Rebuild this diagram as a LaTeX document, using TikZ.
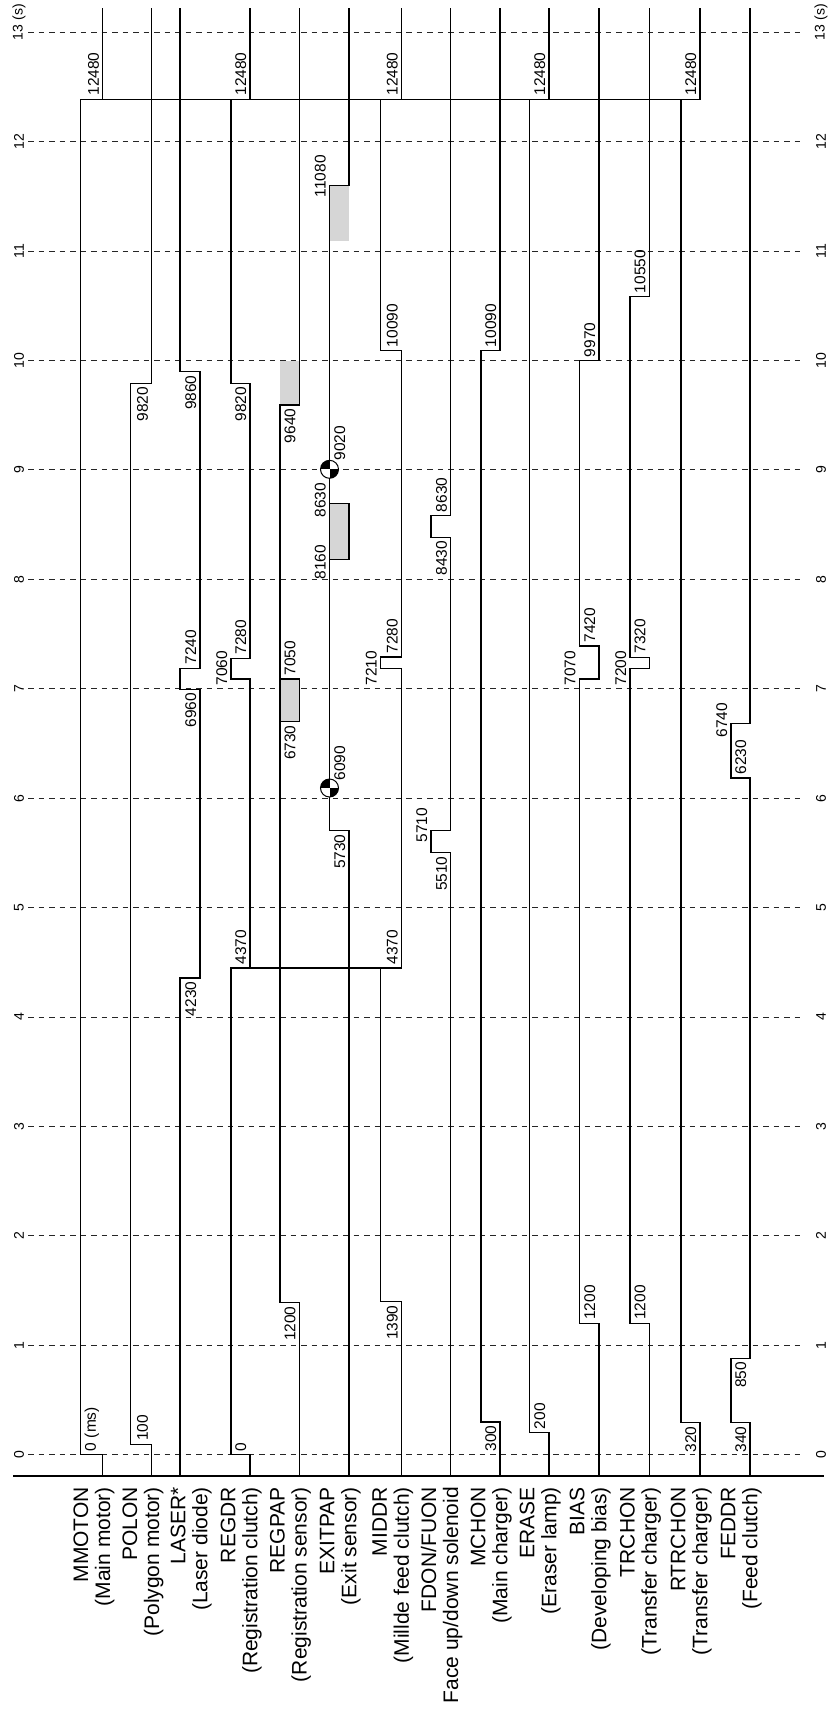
\documentclass[tikz,border=0pt]{standalone}
\usepackage{fontspec}
\setmainfont{Liberation Sans}
\definecolor{boxgray}{RGB}{214,214,214}
\begin{document}
\begin{tikzpicture}[x=1pt,y=-1pt,
  sig/.style={line width=1.35pt, line join=miter},
  tgrid/.style={line width=1pt, black!85, dash pattern=on 5.5pt off 5pt},
  tlab/.style={rotate=90, font=\fontsize{15.5}{16}\selectfont, inner sep=3.5pt},
  lblup/.style={tlab, anchor=south west},
  lbldn/.style={tlab, anchor=south east},
  axlab/.style={rotate=90, font=\fontsize{14}{15}\selectfont, inner sep=0pt},
  siglab/.style={rotate=90, anchor=south east, inner sep=0pt, align=right, font=\fontsize{21}{22}\selectfont},
  cgmark/.style={circle, draw, line width=1pt, minimum size=18pt, inner sep=0pt, fill=white,
    path picture={\fill[black] (path picture bounding box.center) rectangle (path picture bounding box.north west);
                  \fill[black] (path picture bounding box.center) rectangle (path picture bounding box.south east);}}
]
\useasboundingbox (0,0) rectangle (831,1709);

% time grid
\foreach \t in {0,...,12}{
  \pgfmathsetmacro\yy{1454.7-109.42*\t}
  \draw[tgrid] (28,\yy) -- (802,\yy);
  \node[axlab] (axL\t) at (19,\yy) {\t};
  \node[axlab] (axR\t) at (821,\yy) {\t};
}
\draw[tgrid] (28,32.3) -- (802,32.3);
\node[axlab] (axL13) at (19,32.3) {13\rlap{ (s)}};
\node[axlab] (axR13) at (821,32.3) {13\rlap{ (s)}};

% axis
\draw[line width=2.2pt] (13,1476) -- (824,1476);

% grey zones
\fill[boxgray] (280,360.7) rectangle (299.3,405);
\fill[boxgray] (329.5,185.7) rectangle (349,241);
\filldraw[sig, fill=boxgray] (280,679) rectangle (299.3,721.7);
\filldraw[sig, fill=boxgray] (329.5,503.3) rectangle (349,559.3);

% common transitions
\draw[sig] (80.3,99.3) -- (700,99.3);
\draw[sig] (231,968) -- (401.5,968);

% MMOTON
\draw[sig] (102.7,1476) -- (102.7,1454.7) -- (80.3,1454.7) -- (80.3,99.3) -- (102.7,99.3) -- (102.7,8);
% POLON
\draw[sig] (151.7,1476) -- (151.7,1444.3) -- (130.5,1444.3) -- (130.5,383.3) -- (151.7,383.3) -- (151.7,8);
% LASER
\draw[sig] (180,1476) -- (180,978) -- (200,978) -- (200,689.3) -- (180,689.3) -- (180,668.3) -- (200,668.3) -- (200,371.7) -- (180,371.7) -- (180,8);
% REGDR
\draw[sig] (250,1476) -- (250,1454.7) -- (231,1454.7) -- (231,968) -- (250,968) -- (250,679) -- (231,679) -- (231,658.3) -- (250,658.3) -- (250,383.3) -- (231,383.3) -- (231,99.3) -- (250,99.3) -- (250,8);
% REGPAP
\draw[sig] (299.3,1476) -- (299.3,1302.7) -- (280,1302.7) -- (280,405) -- (299.3,405) -- (299.3,8);
% EXITPAP
\draw[sig] (349,1476) -- (349,830.7) -- (329.5,830.7) -- (329.5,185.7) -- (349,185.7) -- (349,8);
% MIDDR
\draw[sig] (401.5,1476) -- (401.5,1301.7) -- (380.5,1301.7) -- (380.5,968) -- (401.5,968) -- (401.5,668.3) -- (380.5,668.3) -- (380.5,657) -- (401.5,657) -- (401.5,350.7) -- (380.5,350.7) -- (380.5,99.3) -- (401.5,99.3) -- (401.5,8);
% FDON
\draw[sig] (450.7,1476) -- (450.7,852.7) -- (431,852.7) -- (431,830.7) -- (450.7,830.7) -- (450.7,537.3) -- (431,537.3) -- (431,515.7) -- (450.7,515.7) -- (450.7,8);
% MCHON
\draw[sig] (500,1476) -- (500,1422) -- (481,1422) -- (481,350.7) -- (500,350.7) -- (500,8);
% ERASE
\draw[sig] (549,1476) -- (549,1432.7) -- (529.3,1432.7) -- (529.3,99.3) -- (549,99.3) -- (549,8);
% BIAS
\draw[sig] (599,1476) -- (599,1323.3) -- (579.3,1323.3) -- (579.3,679) -- (599,679) -- (599,646) -- (579.3,646) -- (579.3,360.7) -- (599,360.7) -- (599,8);
% TRCHON
\draw[sig] (649.3,1476) -- (649.3,1323.3) -- (630,1323.3) -- (630,668.3) -- (649.3,668.3) -- (649.3,657.3) -- (630,657.3) -- (630,296.7) -- (649.3,296.7) -- (649.3,8);
% RTRCHON
\draw[sig] (700,1476) -- (700,1422.7) -- (681,1422.7) -- (681,99.3) -- (700,99.3) -- (700,8);
% FEDDR
\draw[sig] (750,1476) -- (750,1422.7) -- (731,1422.7) -- (731,1358.3) -- (750,1358.3) -- (750,778) -- (731,778) -- (731,723.3) -- (750,723.3) -- (750,8);

% sensor markers
\node[cgmark] (cg1) at (329.5,788) {};
\node[cgmark] (cg2) at (329.5,469.3) {};

% step labels above
\node[lblup] (a1) at (102.7,1454.7) {0 (ms)};
\node[lblup] (a2) at (102.7,99.3) {12480};
\node[lblup] (a3) at (151.7,1444.3) {100};
\node[lblup] (a4) at (200,668.3) {7240};
\node[lblup] (a5) at (250,1454.7) {0};
\node[lblup] (a6) at (250,968) {4370};
\node[lblup] (a7) at (250,658.3) {7280};
\node[lblup] (a8) at (250,99.3) {12480};
\node[lblup] (a9) at (299.3,679) {7050};
\node[lblup] (a10) at (401.5,968) {4370};
\node[lblup] (a11) at (401.5,657) {7280};
\node[lblup] (a12) at (401.5,350.7) {10090};
\node[lblup] (a13) at (401.5,99.3) {12480};
\node[lblup] (a14) at (450.7,515.7) {8630};
\node[lblup] (a15) at (500,350.7) {10090};
\node[lblup] (a16) at (549,1432.7) {200};
\node[lblup] (a17) at (549,99.3) {12480};
\node[lblup] (a18) at (599,1323.3) {1200};
\node[lblup] (a19) at (599,646) {7420};
\node[lblup] (a20) at (599,360.7) {9970};
\node[lblup] (a21) at (649.3,1323.3) {1200};
\node[lblup] (a22) at (649.3,657.3) {7320};
\node[lblup] (a23) at (649.3,296.7) {10550};
\node[lblup] (a24) at (700,99.3) {12480};
\node[lblup] (a25) at (750,778) {6230};

% step labels below
\node[lbldn] (b1) at (151.7,383.3) {9820};
\node[lbldn] (b2) at (200,978) {4230};
\node[lbldn] (b3) at (200,689.3) {6960};
\node[lbldn] (b4) at (200,371.7) {9860};
\node[lbldn] (b5) at (250,383.3) {9820};
\node[lbldn] (b6) at (299.3,1302.7) {1200};
\node[lbldn] (b7) at (299.3,721.7) {6730};
\node[lbldn] (b8) at (299.3,405) {9640};
\node[lbldn] (b9) at (349,830.7) {5730};
\node[lbldn] (b10) at (401.5,1301.7) {1390};
\node[lbldn] (b11) at (450.7,852.7) {5510};
\node[lbldn] (b12) at (450.7,537.3) {8430};
\node[lbldn] (b13) at (500,1422) {300};
\node[lbldn] (b14) at (700,1422.7) {320};
\node[lbldn] (b15) at (750,1422.7) {340};
\node[lbldn] (b16) at (750,1358.3) {850};

% labels beside a level
\node[lblup] (c1) at (231,689) {7060};
\node[lblup] (c2) at (380.5,689) {7210};
\node[lblup] (c3) at (579.3,689) {7070};
\node[lblup] (c4) at (630,689) {7200};
\node[lblup] (c5) at (731,741) {6740};
\node[lblup] (c6) at (431,846) {5710};
\node[lblup] (c7) at (329.5,521) {8630};
\node[lblup] (c8) at (329.5,583) {8160};
\node[lblup] (c9) at (329.5,201) {11080};
\node[lblup] (c10) at (349,784) {6090};
\node[lblup] (c11) at (349,464) {9020};

% signal names
\node[siglab] (n1) at (114.7,1487) {MMOTON\\(Main motor)};
\node[siglab] (n2) at (163.7,1487) {POLON\\(Polygon motor)};
\node[siglab] (n3) at (212,1487) {LASER*\\(Laser diode)};
\node[siglab] (n4) at (262,1487) {REGDR\\(Registration clutch)};
\node[siglab] (n5) at (311.3,1487) {REGPAP\\(Registration sensor)};
\node[siglab] (n6) at (361,1487) {EXITPAP\\(Exit sensor)};
\node[siglab] (n7) at (413.5,1487) {MIDDR\\(Millde feed clutch)};
\node[siglab] (n8) at (462.7,1487) {FDON/FUON\\Face up/down solenoid};
\node[siglab] (n9) at (512,1487) {MCHON\\(Main charger)};
\node[siglab] (n10) at (561,1487) {ERASE\\(Eraser lamp)};
\node[siglab] (n11) at (611,1487) {BIAS\\(Developing bias)};
\node[siglab] (n12) at (661.3,1487) {TRCHON\\(Transfer charger)};
\node[siglab] (n13) at (712,1487) {RTRCHON\\(Transfer charger)};
\node[siglab] (n14) at (762,1487) {FEDDR\\(Feed clutch)};
\end{tikzpicture}
\end{document}
